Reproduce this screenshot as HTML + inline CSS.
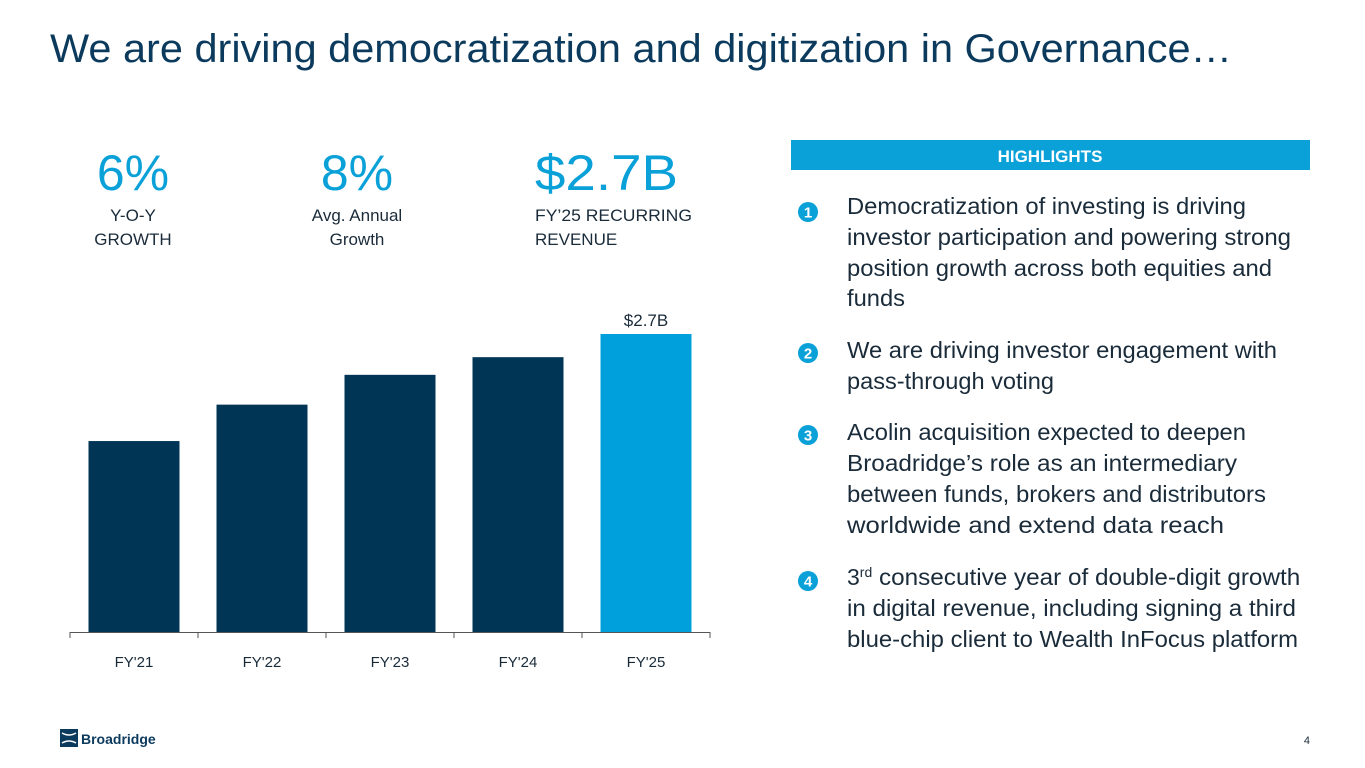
<!DOCTYPE html>
<html><head><meta charset="utf-8"><style>
html,body{margin:0;padding:0;background:#fff}
svg{display:block;font-family:"Liberation Sans",sans-serif}
</style></head><body>
<svg width="1365" height="768" viewBox="0 0 1365 768">
<text x="50" y="62" font-size="40" fill="#0b3a5d" textLength="1182" lengthAdjust="spacingAndGlyphs">We are driving democratization and digitization in Governance…</text>

<g>
<text x="133" y="190" font-size="50" fill="#0aa0d8" text-anchor="middle">6%</text>
<text x="133" y="221" font-size="17" fill="#1a2b3a" text-anchor="middle">Y-O-Y</text>
<text x="133" y="245" font-size="17" fill="#1a2b3a" text-anchor="middle">GROWTH</text>
</g>
<g>
<text x="357" y="190" font-size="50" fill="#0aa0d8" text-anchor="middle">8%</text>
<text x="357" y="221" font-size="17" fill="#1a2b3a" text-anchor="middle">Avg. Annual</text>
<text x="357" y="245" font-size="17" fill="#1a2b3a" text-anchor="middle">Growth</text>
</g>
<g>
<text x="535" y="190" font-size="50" fill="#0aa0d8" textLength="143" lengthAdjust="spacingAndGlyphs">$2.7B</text>
<text x="535" y="221" font-size="17" fill="#1a2b3a" textLength="157" lengthAdjust="spacingAndGlyphs">FY’25 RECURRING</text>
<text x="535" y="245" font-size="17" fill="#1a2b3a">REVENUE</text>
</g>

<g id="chart"></g>

<rect x="791" y="140" width="519" height="30" fill="#0aa0d8"/>
<text x="1050" y="162" font-size="17" font-weight="bold" fill="#fff" text-anchor="middle">HIGHLIGHTS</text>

<g font-size="23" fill="#1a2b3a">
<g>
<circle cx="808" cy="212" r="10" fill="#0aa0d8"/><text x="808" y="217.5" font-size="15" font-weight="bold" fill="#fff" text-anchor="middle">1</text>
<text x="847" y="214" textLength="399" lengthAdjust="spacingAndGlyphs">Democratization of investing is driving</text>
<text x="847" y="245" textLength="444" lengthAdjust="spacingAndGlyphs">investor participation and powering strong</text>
<text x="847" y="276" textLength="425" lengthAdjust="spacingAndGlyphs">position growth across both equities and</text>
<text x="847" y="306" textLength="58" lengthAdjust="spacingAndGlyphs">funds</text>
</g>
<g>
<circle cx="808" cy="353" r="10" fill="#0aa0d8"/><text x="808" y="358.5" font-size="15" font-weight="bold" fill="#fff" text-anchor="middle">2</text>
<text x="847" y="358" textLength="430" lengthAdjust="spacingAndGlyphs">We are driving investor engagement with</text>
<text x="847" y="389" textLength="207" lengthAdjust="spacingAndGlyphs">pass-through voting</text>
</g>
<g>
<circle cx="808" cy="435" r="10" fill="#0aa0d8"/><text x="808" y="440.5" font-size="15" font-weight="bold" fill="#fff" text-anchor="middle">3</text>
<text x="847" y="440" textLength="399" lengthAdjust="spacingAndGlyphs">Acolin acquisition expected to deepen</text>
<text x="847" y="471" textLength="390" lengthAdjust="spacingAndGlyphs">Broadridge’s role as an intermediary</text>
<text x="847" y="502" textLength="419" lengthAdjust="spacingAndGlyphs">between funds, brokers and distributors</text>
<text x="847" y="533" textLength="377" lengthAdjust="spacingAndGlyphs">worldwide and extend data reach</text>
</g>
<g>
<circle cx="808" cy="581" r="10" fill="#0aa0d8"/><text x="808" y="586.5" font-size="15" font-weight="bold" fill="#fff" text-anchor="middle">4</text>
<text x="847" y="585">3<tspan font-size="14" dy="-8">rd</tspan><tspan dy="8" textLength="428" lengthAdjust="spacingAndGlyphs"> consecutive year of double-digit growth</tspan></text>
<text x="847" y="616" textLength="449" lengthAdjust="spacingAndGlyphs">in digital revenue, including signing a third</text>
<text x="847" y="647" textLength="451" lengthAdjust="spacingAndGlyphs">blue-chip client to Wealth InFocus platform</text>
</g>
</g>

<g>
<rect x="60" y="729" width="18" height="18" fill="#0b3a5d"/>
<path d="M62 733 q7 4 14 0 M62 743 q7 -4 14 0" stroke="#fff" stroke-width="1.5" fill="none"/>
<text x="81" y="744" font-size="14" font-weight="bold" fill="#0b3a5d">Broadridge</text>
</g>
<text x="1310" y="744" font-size="11" fill="#1a2b3a" text-anchor="end">4</text>
</svg>
<script>
const categories = ["FY'21","FY'22","FY'23","FY'24","FY'25"];
const revenue = [1.73, 2.06, 2.33, 2.49, 2.7];
const valueLabels = ["","","","","$2.7B"];
const NS = "http://www.w3.org/2000/svg";
const g = document.getElementById('chart');
const x0 = 70, band = 128, barW = 91, baseY = 632, pxPerUnit = 298/2.7;
const yScale = v => baseY - v*pxPerUnit;
function mk(tag, attrs){const e=document.createElementNS(NS,tag);for(const k in attrs)e.setAttribute(k,attrs[k]);g.appendChild(e);return e;}
categories.forEach((c,i)=>{
  const bx = x0 + i*band + (band-barW)/2;
  const top = yScale(revenue[i]);
  const r = mk('rect',{x:bx,y:top,width:barW,height:baseY-top,fill:i===categories.length-1?'#00a0dc':'#003555'});
  
  
  const t = mk('text',{x:x0+i*band+band/2,y:667,'font-size':15,fill:'#1a2b3a','text-anchor':'middle'});
  t.textContent = c;
  
  
  if(valueLabels[i]){
    const v = mk('text',{x:x0+i*band+band/2,y:top-8,'font-size':17,fill:'#1a2b3a','text-anchor':'middle'});
    v.textContent = valueLabels[i];
    
    
  }
});
const ax = mk('line',{x1:x0,x2:x0+band*categories.length,y1:baseY+0.5,y2:baseY+0.5,stroke:'#555','stroke-width':1});


for(let i=0;i<=categories.length;i++){
  const tk = mk('line',{x1:x0+i*band,x2:x0+i*band,y1:baseY,y2:baseY+6,stroke:'#555'});
  
  
}
</script>
</body></html>
